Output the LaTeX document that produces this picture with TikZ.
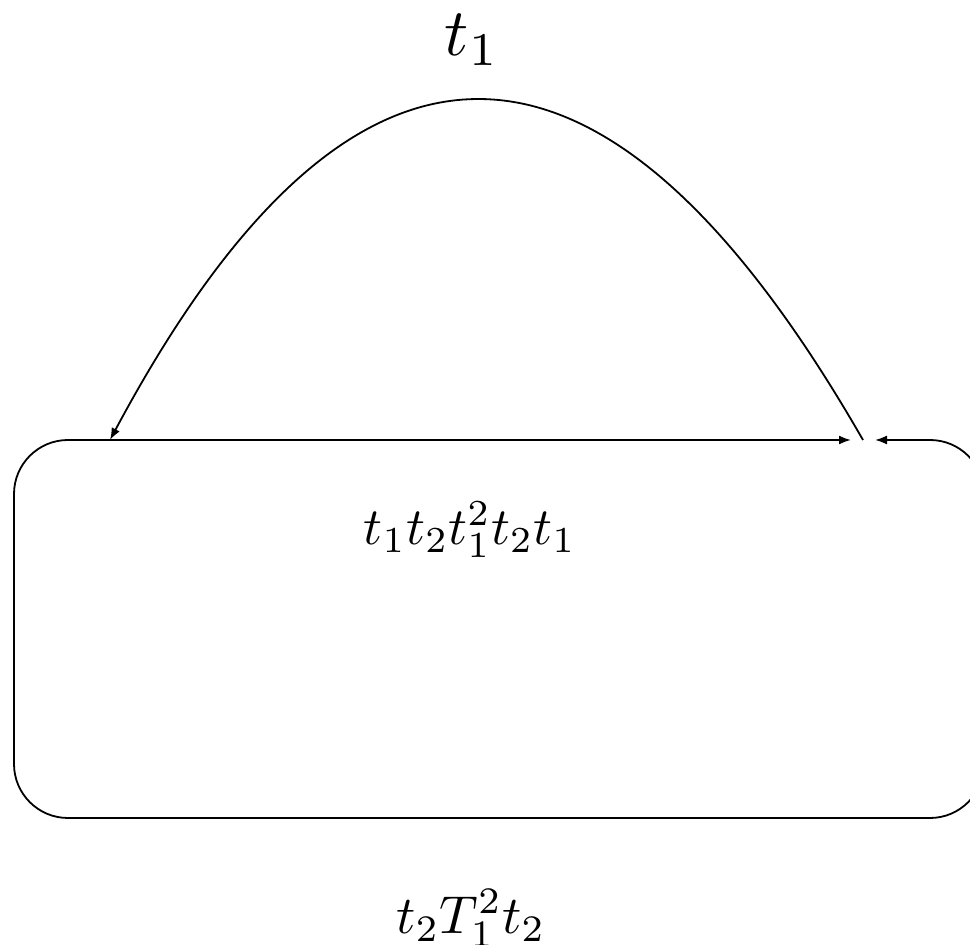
\documentclass[tikz,border=0pt]{standalone}
\usetikzlibrary{arrows.meta}
\begin{document}
\begin{tikzpicture}[x=0.5pt,y=-0.5pt,
  wire/.style={line width=0.9pt,black},
  tip/.style={-{Latex[length=6pt,width=4.5pt]}},
  lbl/.style={inner sep=0pt}]
\useasboundingbox (0,0) rectangle (970,945);
\coordinate (A) at (863,440);
\coordinate (B) at (110,440);
\node[lbl] (top) at (472,40) {\scalebox{3.35}{$t_1$}};
\node[lbl] (mid) at (470,530) {\scalebox{2.62}{$t_1t_2t_1^2t_2t_1$}};
\node[lbl] (bot) at (471,918) {\scalebox{2.67}{$t_2T_1^2t_2$}};
% arc from A to B
\draw[wire,tip] (A) .. controls (603,-13) and (352,-13) .. (B);
% straight line B to A
\draw[wire,tip,shorten >=6pt] (B) -- (A);
% rounded rectangle loop from B around back to A
\draw[wire,tip,shorten >=6pt,rounded corners=27pt]
  (B) -- (14,440) -- (14,818) -- (984,818) -- (984,440) -- (A);
\end{tikzpicture}
\end{document}
